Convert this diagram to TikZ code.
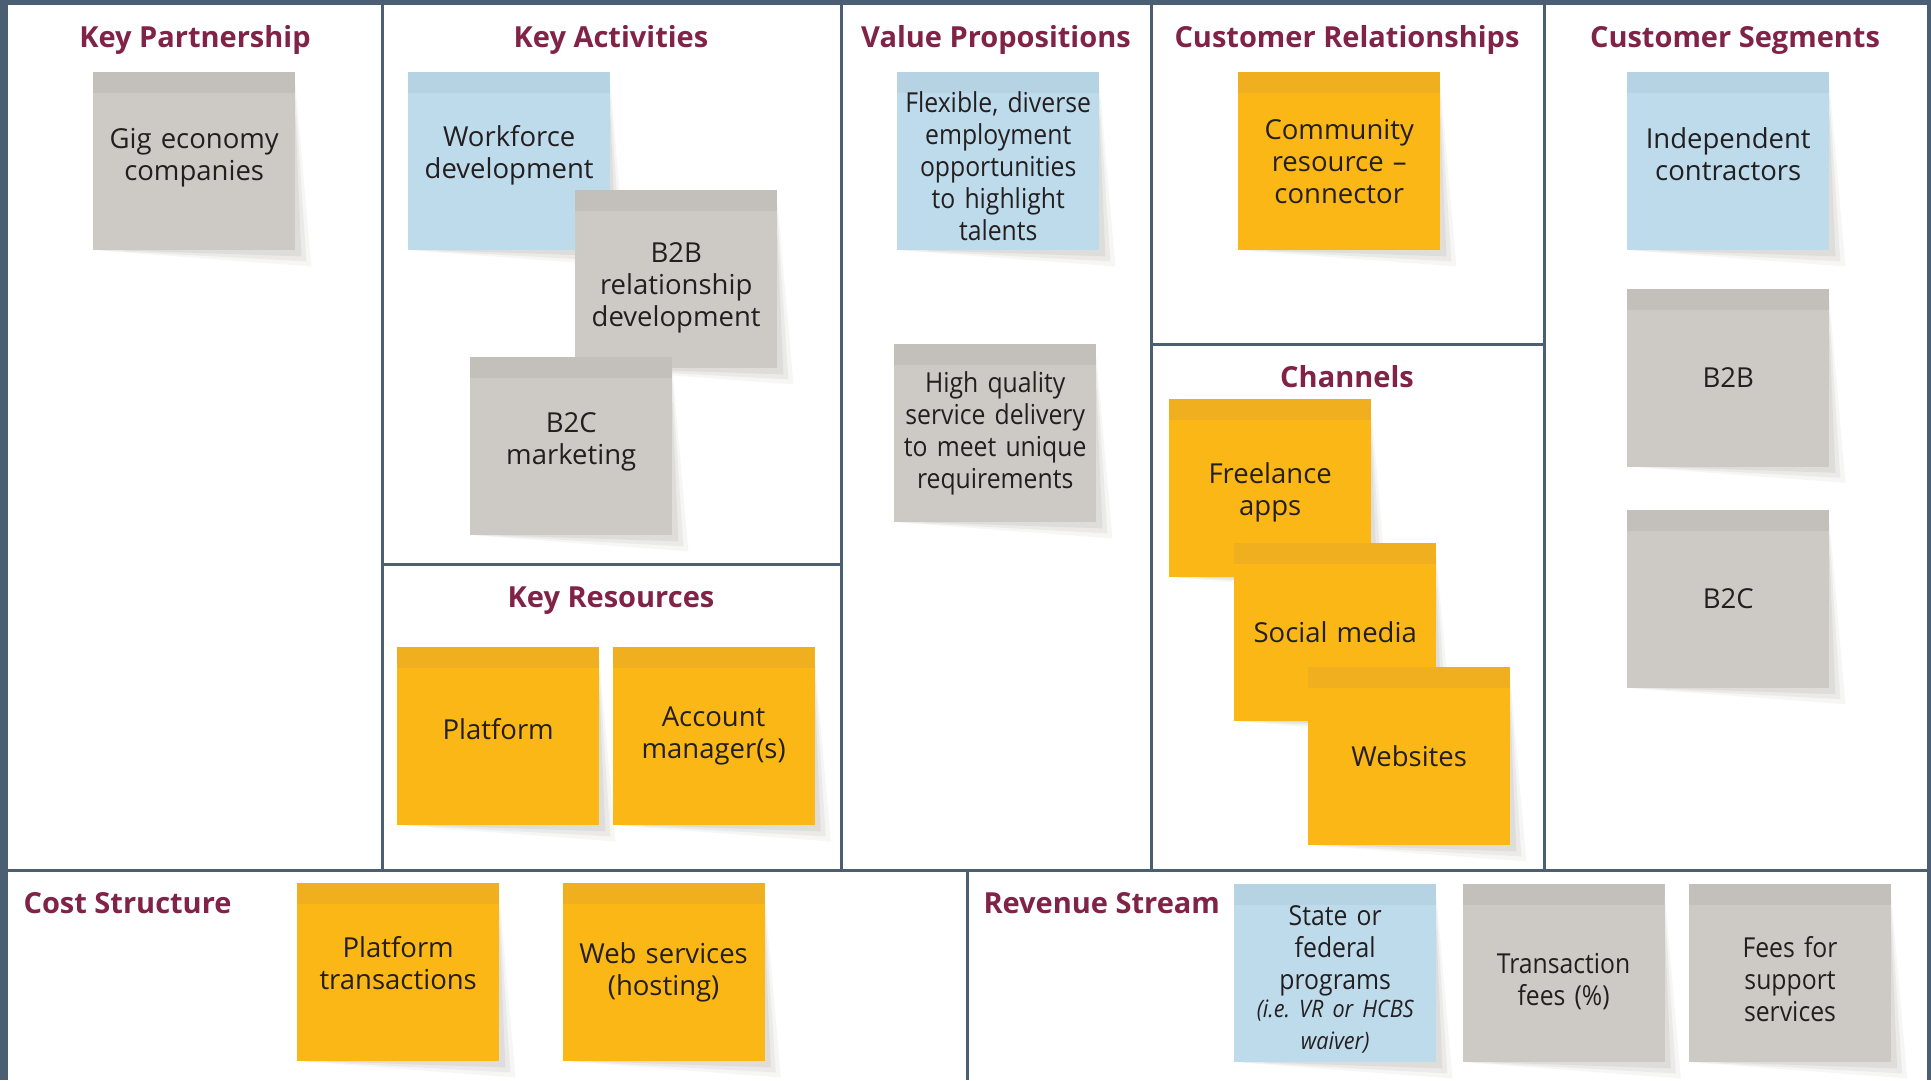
\documentclass[tikz,border=0pt]{standalone}
\usepackage{fontspec}
\setmainfont{Open Sans}
\newfontfamily\condfont{Open Sans}[FakeStretch=0.9, WordSpace=0.6]
\usetikzlibrary{positioning,backgrounds}
\frenchspacing

\definecolor{frameblue}{RGB}{74,95,115}
\definecolor{titlered}{RGB}{128,35,70}
\definecolor{ink}{RGB}{35,31,32}
\definecolor{graybody}{RGB}{205,202,197}
\definecolor{grayhead}{RGB}{195,191,186}
\definecolor{bluebody}{RGB}{190,219,235}
\definecolor{bluehead}{RGB}{182,211,228}
\definecolor{orangebody}{RGB}{251,183,21}
\definecolor{orangehead}{RGB}{240,175,30}
\definecolor{curlshade}{RGB}{95,90,75}

\newcommand\nudge[1]{\par\vspace*{#1}}

\tikzset{
  rule/.style={frameblue, line width=3pt},
  heading/.style={anchor=base, text=titlered, font=\fontsize{29}{34}\selectfont\bfseries},
  note/.style={anchor=north west, minimum width=202pt, minimum height=178pt, inner sep=0pt,
    text width=198pt, align=center, text=ink, font=\fontsize{27.5}{32}\selectfont, fill=#1body,
    path picture={\fill[#1head] (path picture bounding box.north west) rectangle ([yshift=-21pt]path picture bounding box.north east);}},
  cond/.style={font=\condfont\fontsize{27.5}{32}\selectfont},
  curl/.style={fill=curlshade, opacity=#1},
}

\begin{document}
\begin{tikzpicture}[x=1pt, y=-1pt]
\useasboundingbox (0,0) rectangle (1931,1080);
\begin{scope}[on background layer]
\fill[frameblue] (0,0) rectangle (1931,1080);
\fill[white] (8,5) rectangle (1927,1080);
\end{scope}

\draw[rule] (382,5) -- (382,870) (841,5) -- (841,870) (1151,5) -- (1151,870) (1544,5) -- (1544,870);
\draw[rule] (8,870) -- (1927,870) (967,870) -- (967,1080);
\draw[rule] (382,564) -- (841,564) (1151,344) -- (1544,344);

\node[heading] (kph) at (195,47) {Key Partnership};
\node[heading] (kah) at (611,47) {Key Activities};
\node[heading] (vph) at (996,47) {Value Propositions};
\node[heading] (crh) at (1347,47) {Customer Relationships};
\node[heading] (csh) at (1735,47) {Customer Segments};
\node[heading] (chh) at (1347,387) {Channels};
\node[heading] (krh) at (611,607) {Key Resources};
\node[heading, anchor=base west] (cth) at (20,913) {Cost Structure};
\node[heading, anchor=base west] (rsh) at (980,913) {Revenue Stream};

\node[note=gray] (kp) at (93,72) {Gig economy\\companies\nudge{6pt}};
\node[note=blue] (ka1) at (408,72) {Workforce\\development\nudge{12pt}};
\node[note=gray] (ka2) at (575,190) {B2B\\relationship\\development\nudge{-18pt}};
\node[note=gray] (ka3) at (470,357) {B2C\\marketing\nudge{8pt}};
\node[note=orange] (kr1) at (397,647) {Platform\nudge{14pt}};
\node[note=orange, right=13pt of kr1] (kr2) {Account\\manager(s)};
\node[note=blue, cond] (vp1) at (897,72) {Flexible, diverse\\employment\\opportunities\\to highlight\\talents\nudge{-10pt}};
\node[note=gray, cond] (vp2) at (894,344) {High quality\\service delivery\\to meet unique\\requirements};
\node[note=orange] (cr1) at (1238,72) {Community\\resource --\\connector};
\node[note=orange] (ch1) at (1169,399) {Freelance\\apps\nudge{-8pt}};
\node[note=orange] (ch2) at (1234,543) {Social media};
\node[note=orange] (ch3) at (1308,667) {Websites};
\node[note=blue] (cs1) at (1627,72) {Independent\\contractors\nudge{14pt}};
\node[note=gray, below=38pt of cs1] (cs2) {B2B};
\node[note=gray, below=43pt of cs2] (cs3) {B2C};
\node[note=orange] (ct1) at (297,883) {Platform\\transactions\nudge{18pt}};
\node[note=orange, right=63pt of ct1] (ct2) {Web services\\(hosting)};
\node[note=blue, cond] (rs1) at (1234,884) {State or\\federal\\programs\\{\itshape\fontsize{24}{28}\selectfont (i.e. VR or HCBS\\waiver)}\nudge{-12pt}};
\node[note=gray, cond, right=26pt of rs1] (rs2) {Transaction\\fees (\%)\nudge{-16pt}};
\node[note=gray, cond, right=24pt of rs2] (rs3) {Fees for\\support\\services\nudge{-12pt}};

\begin{scope}[on background layer]
\foreach \n in {kp,ka1,ka2,ka3,kr1,kr2,vp1,vp2,cr1,ch1,ch2,ch3,cs1,cs2,cs3,ct1,ct2,rs1,rs2,rs3} {
  \fill[curl=.05] ([xshift=4pt]\n.south west) -- ([shift={(16pt,-16pt)}]\n.south east) -- ([yshift=-12pt]\n.north east) -- cycle;
  \fill[curl=.07] ([xshift=10pt]\n.south west) -- ([shift={(11pt,-11pt)}]\n.south east) -- ([yshift=-25pt]\n.north east) -- cycle;
  \fill[curl=.09] ([xshift=30pt]\n.south west) -- ([shift={(6pt,-6pt)}]\n.south east) -- ([yshift=-45pt]\n.north east) -- cycle;
}
\end{scope}
\end{tikzpicture}
\end{document}
